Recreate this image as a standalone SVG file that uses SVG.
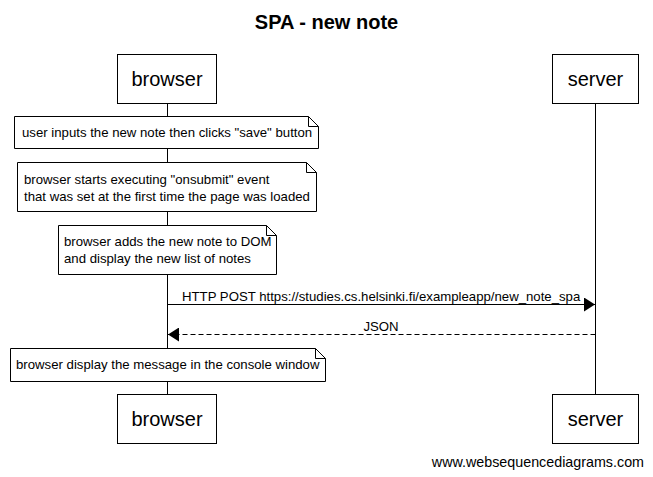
<svg xmlns="http://www.w3.org/2000/svg" width="653" height="477" viewBox="0 0 653 477">
<style>
text{font-family:"Liberation Sans",Arial,sans-serif;fill:#000}
.box{fill:#fff;stroke:#000;stroke-width:1}
.note{fill:#fff;stroke:#000;stroke-width:1}
.life{stroke:#000;stroke-width:1}
.actor{font-size:20px;text-anchor:middle}
.nt{font-size:13.2px}
.msg{stroke:#000;stroke-width:1;fill:none}
</style>
<defs>
<marker id="ah" markerWidth="11" markerHeight="14" refX="11" refY="7" orient="auto" markerUnits="userSpaceOnUse">
<path d="M0,0 L11,7 L0,14 Z" fill="#000"/>
</marker>
</defs>
<rect width="653" height="477" fill="#fff"/>
<text x="326.5" y="29" font-size="20" font-weight="bold" text-anchor="middle">SPA - new note</text>
<g id="lifelines">
<line class="life" x1="167.5" y1="103" x2="167.5" y2="394"/>
<line class="life" x1="595.5" y1="103" x2="595.5" y2="394"/>
</g>
<g id="browser-top"><rect class="box" x="117.5" y="54.5" width="99" height="49"/><text class="actor" x="167" y="86">browser</text></g>
<g id="server-top"><rect class="box" x="552.5" y="54.5" width="86" height="49"/><text class="actor" x="595.5" y="86">server</text></g>
<g id="note1"><path class="note" d="M14.5,116.5 H308.5 L318.5,126.5 V148.5 H14.5 Z M308.5,116.5 V126.5 H318.5"/><text class="nt" x="22" y="137">user inputs the new note then clicks "save" button</text></g>
<g id="note2"><path class="note" d="M17.5,162.5 H306.5 L316.5,172.5 V211.5 H17.5 Z M306.5,162.5 V172.5 H316.5"/><text class="nt" x="24" y="184">browser starts executing "onsubmit" event</text><text class="nt" x="24" y="201">that was set at the first time the page was loaded</text></g>
<g id="note3"><path class="note" d="M58.5,225.5 H266.5 L276.5,235.5 V274.5 H58.5 Z M266.5,225.5 V235.5 H276.5"/><text class="nt" x="64" y="246">browser adds the new note to DOM</text><text class="nt" x="64" y="263">and display the new list of notes</text></g>
<g id="connectors">
<line class="msg" x1="167.5" y1="304.5" x2="595" y2="304.5" marker-end="url(#ah)"/>
<text class="nt" x="182" y="301">HTTP POST https://studies.cs.helsinki.fi/exampleapp/new_note_spa</text>
<line class="msg" x1="595.5" y1="334.5" x2="168" y2="334.5" stroke-dasharray="5,3" marker-end="url(#ah)"/>
<text class="nt" x="381" y="331" text-anchor="middle">JSON</text>
</g>
<g id="note4"><path class="note" d="M10.5,348.5 H315.5 L325.5,358.5 V381.5 H10.5 Z M315.5,348.5 V358.5 H325.5"/><text class="nt" x="16" y="369">browser display the message in the console window</text></g>
<g id="browser-bottom"><rect class="box" x="117.5" y="394.5" width="99" height="49"/><text class="actor" x="167" y="426">browser</text></g>
<g id="server-bottom"><rect class="box" x="552.5" y="394.5" width="86" height="49"/><text class="actor" x="595.5" y="426">server</text></g>
<text x="644" y="467" font-size="14.3" text-anchor="end">www.websequencediagrams.com</text>
</svg>
